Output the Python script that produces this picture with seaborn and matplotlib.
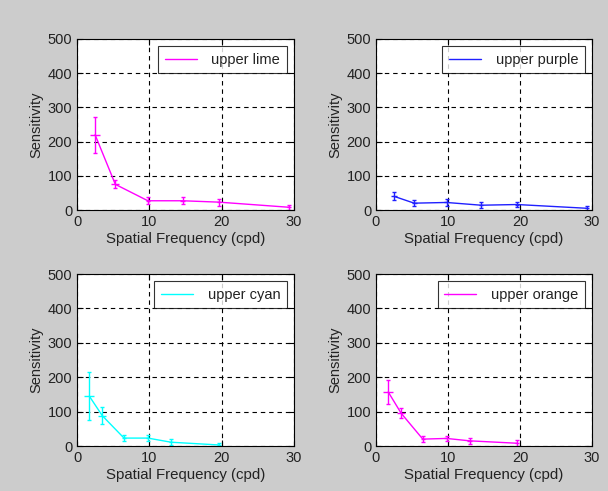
import matplotlib
matplotlib.use("Agg")
import matplotlib.pyplot as plt
import seaborn as sns
import pandas as pd

# Data
lime_x = [2.5, 5.3, 9.8, 14.6, 19.6, 29.3]
lime_y = [220, 75, 27, 27, 23, 8]
lime_err = [53, 12, 10, 10, 10, 8]
lime_xerr = [0.7, 0.55, 0.3, 0.3, 0.3, 0.3]

purple_x = [2.5, 5.3, 9.8, 14.6, 19.6, 29.3]
purple_y = [40, 20, 22, 14, 16, 5]
purple_err = [12, 8, 10, 8, 8, 8]
purple_xerr = [0.4, 0.35, 0.3, 0.3, 0.3, 0.3]

cyan_x = [1.7, 3.5, 6.5, 9.8, 13.0, 19.6]
cyan_y = [145, 88, 23, 23, 11, 3]
cyan_err = [70, 25, 8, 8, 8, 6]
cyan_xerr = [0.7, 0.55, 0.3, 0.3, 0.3, 0.3]

orange_x = [1.7, 3.5, 6.5, 9.8, 13.0, 19.6]
orange_y = [157, 95, 20, 22, 15, 8]
orange_err = [35, 15, 8, 8, 8, 8]
orange_xerr = [0.7, 0.55, 0.3, 0.3, 0.3, 0.3]

series = [
    ("upper lime", lime_x, lime_y, lime_err, lime_xerr, "#ff00ff"),
    ("upper purple", purple_x, purple_y, purple_err, purple_xerr, "#2020ff"),
    ("upper cyan", cyan_x, cyan_y, cyan_err, cyan_xerr, "#00ffff"),
    ("upper orange", orange_x, orange_y, orange_err, orange_xerr, "#ff00ff"),
]

xticks = [0, 10, 20, 30]
yticks = [0, 100, 200, 300, 400, 500]

sns.set_style("white")
plt.rcParams['font.family'] = ['Liberation Sans', 'DejaVu Sans']
plt.rcParams['font.size'] = 10

fig = plt.figure(figsize=(6.08, 4.91), dpi=100)
fig.patch.set_facecolor("#cccccc")

positions = [
    [77/608, 1 - 210/491, 217/608, 171/491],
    [376/608, 1 - 210/491, 216/608, 171/491],
    [77/608, 1 - 446/491, 217/608, 172/491],
    [376/608, 1 - 446/491, 216/608, 172/491],
]

for (label, xs, ys, ye, xe, col), pos in zip(series, positions):
    ax = fig.add_axes(pos)
    ax.set_facecolor("white")
    df = pd.DataFrame({"x": xs, "y": ys})
    sns.lineplot(data=df, x="x", y="y", ax=ax, color=col, linewidth=1,
                 label=label, estimator=None, sort=False)
    ax.errorbar(xs, ys, yerr=ye, fmt="none", ecolor=col,
                elinewidth=1, capsize=1.5, capthick=1)
    ax.errorbar(xs, ys, xerr=xe, fmt="none", ecolor=col,
                elinewidth=1, capsize=0)
    ax.set_xlim(0, 30)
    ax.set_ylim(0, 500)
    ax.set_xticks(xticks)
    ax.set_yticks(yticks)
    ax.grid(True, color="black", linestyle=(0, (4, 3.5)), linewidth=0.8)
    ax.tick_params(direction="in", length=4, colors="black", labelsize=10.5,
                   top=True, right=True, bottom=True, left=True,
                   labeltop=False, labelright=False, labelcolor="#222222")
    for s in ax.spines.values():
        s.set_color("black")
        s.set_linewidth(0.8)
    ax.set_xlabel("Spatial Frequency (cpd)", fontsize=10.8, labelpad=2, color="#222222")
    ax.set_ylabel("Sensitivity", fontsize=10.5, labelpad=3, color="#222222")
    leg = ax.legend(loc="upper right", fontsize=10.5, frameon=True, fancybox=False,
                    borderaxespad=0.5, handlelength=2.2, borderpad=0.45,
                    handletextpad=1.0)
    leg.get_frame().set_edgecolor("black")
    leg.get_frame().set_linewidth(0.8)
    for t in leg.get_texts():
        t.set_color("#222222")

fig.savefig("out.png", dpi=100, facecolor=fig.get_facecolor())
